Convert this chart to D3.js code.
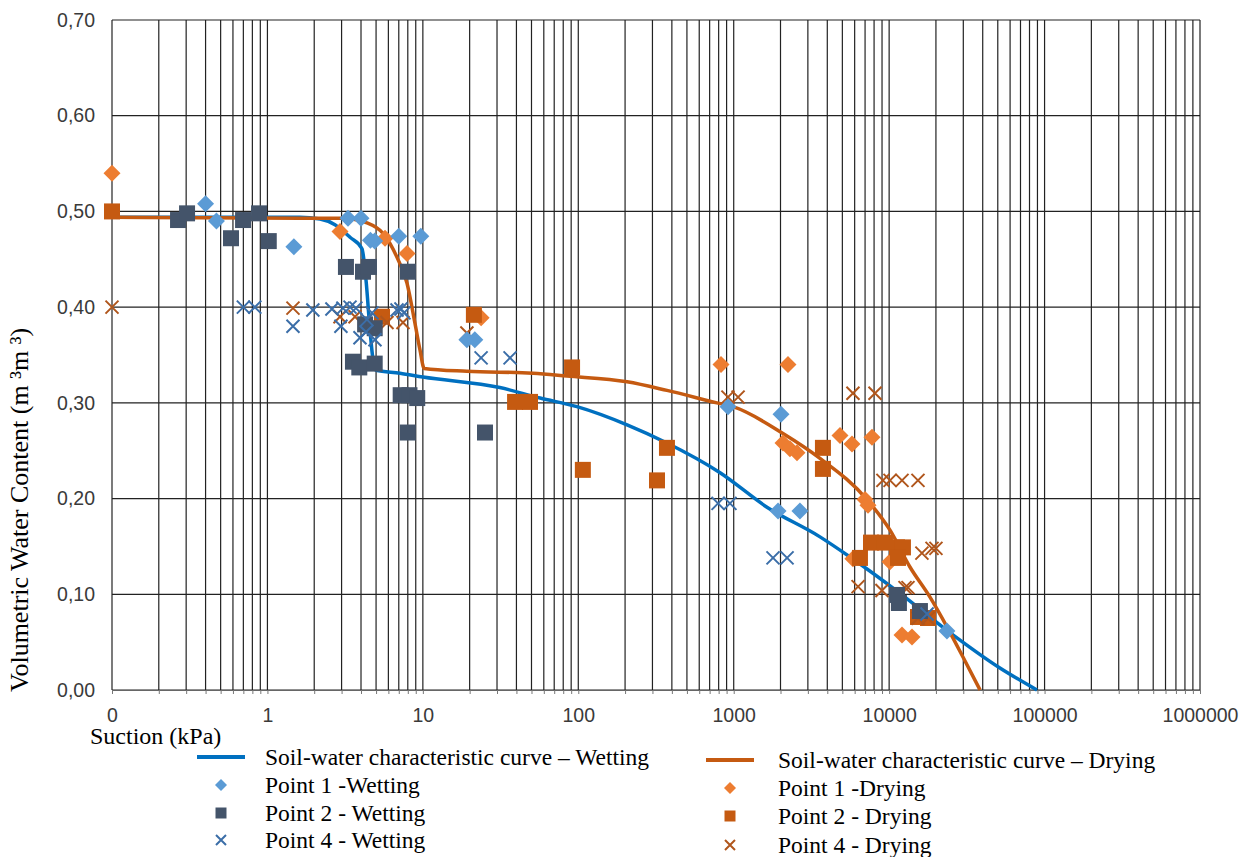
<!DOCTYPE html>
<html>
<head>
<meta charset="utf-8">
<script src="https://cdn.jsdelivr.net/npm/d3@7"></script>
<style>
  body { margin: 0; background: #fff; }
  .tick text { font-family: "Liberation Sans", Arial, sans-serif; font-size: 19.5px; fill: #3a3a3a; }
</style>
</head>
<body>
<script>
// suction (kPa), volumetric water content
const wettingCurve = [[0.1,0.494],[1.62,0.494],[2.18,0.492],[2.72,0.486],[3.4,0.473],[4.06,0.461],[4.31,0.428],[4.57,0.376],[4.78,0.345],[4.99,0.334],[7.13,0.331],[10,0.327],[31.3,0.316],[56.8,0.305],[98,0.296],[206,0.277],[372,0.258],[817,0.227],[1637,0.191],[3590,0.160],[5600,0.139],[11750,0.101],[24600,0.060],[51600,0.023],[89400,0]];
const dryingCurve = [[0.1,0.494],[1.62,0.493],[3.06,0.493],[4.37,0.488],[5.54,0.477],[6.82,0.452],[7.91,0.425],[8.9,0.383],[9.59,0.355],[10.2,0.336],[19.2,0.333],[51.1,0.331],[84.6,0.328],[206,0.322],[372,0.313],[780,0.300],[989,0.296],[2075,0.268],[3590,0.242],[7200,0.199],[10130,0.167],[13610,0.1285],[18320,0.097],[23550,0.066],[29850,0.0345],[38450,0]];

const point1Wetting = [[0.40,0.508],[0.47,0.490],[1.48,0.463],[3.3,0.493],[4.0,0.493],[4.6,0.470],[4.9,0.469],[7.0,0.474],[9.7,0.474],[19.2,0.366],[21.6,0.366],[919,0.296],[2014,0.288],[1929,0.187],[2667,0.187],[23550,0.0616]];
const point2Wetting = [[0.266,0.491],[0.304,0.498],[0.583,0.472],[0.697,0.491],[0.883,0.498],[1.02,0.469],[3.2,0.442],[4.12,0.437],[4.5,0.442],[8.02,0.437],[4.25,0.382],[4.9,0.378],[3.55,0.343],[3.9,0.337],[4.9,0.341],[7.2,0.308],[8.2,0.308],[9.2,0.305],[8.0,0.269],[25.1,0.269],[11230,0.0993],[11560,0.0909],[15780,0.0825]];
const point4Wetting = [[0.70,0.400],[0.83,0.400],[1.46,0.380],[1.96,0.397],[2.6,0.398],[3.06,0.399],[3.4,0.400],[3.71,0.399],[2.97,0.380],[3.94,0.368],[4.31,0.374],[4.37,0.387],[4.71,0.394],[4.92,0.366],[6.82,0.397],[7.23,0.398],[7.56,0.394],[23.7,0.347],[36.4,0.347],[793,0.195],[946,0.195],[1790,0.138],[2204,0.138],[17540,0.0794]];

const point1Drying = [[0.1,0.540],[2.93,0.479],[5.71,0.472],[7.91,0.456],[23.7,0.389],[828,0.340],[2234,0.340],[2075,0.258],[2301,0.252],[2553,0.248],[4830,0.266],[5770,0.257],[7760,0.264],[6995,0.199],[7310,0.193],[5850,0.137],[10130,0.134],[12100,0.0575],[14030,0.0554]];
const point2Drying = [[0.1,0.500],[5.46,0.390],[21.3,0.392],[39.2,0.301],[48.9,0.301],[91.2,0.337],[107,0.230],[321,0.219],[372,0.253],[3750,0.253],[3750,0.231],[6490,0.138],[7640,0.154],[9400,0.154],[11230,0.149],[12270,0.149],[11400,0.138],[15330,0.0763],[17780,0.0752]];
const point4Drying = [[0.1,0.400],[1.46,0.399],[2.93,0.390],[3.66,0.390],[5.88,0.384],[7.45,0.384],[19.2,0.373],[918,0.306],[1067,0.306],[5850,0.310],[8110,0.310],[9120,0.219],[10130,0.219],[12100,0.219],[15330,0.219],[16250,0.143],[18880,0.148],[20000,0.148],[6310,0.108],[8990,0.104],[12650,0.107],[13220,0.107],[15330,0.075],[17780,0.075]];

const xTicks = [0.1, 1, 10, 100, 1000, 10000, 100000, 1000000];
const xTickLabels = ["0", "1", "10", "100", "1000", "10000", "100000", "1000000"];
const yTicks = [0, 0.1, 0.2, 0.3, 0.4, 0.5, 0.6, 0.7];

const serif = "'Liberation Serif', 'Times New Roman', 'DejaVu Serif', serif";
const m = {top: 20, left: 112, right: 52, bottom: 167};
const W = 1252, H = 857;
const w = W - m.left - m.right, h = H - m.top - m.bottom;

const svg = d3.select("body").append("svg")
    .attr("width", W).attr("height", H);
const g = svg.append("g").attr("transform", `translate(${m.left},${m.top})`);

const x = d3.scaleLog().domain([0.1, 1e6]).range([0, w]);
const y = d3.scaleLinear().domain([0, 0.7]).range([h, 0]);

// grid
const minors = [];
for (let e = -1; e < 6; e++) for (let k = 1; k < 10; k++) minors.push(k * Math.pow(10, e));
minors.push(1e6);

g.append("g").selectAll("line").data(minors).enter().append("line")
    .attr("x1", d => x(d)).attr("x2", d => x(d))
    .attr("y1", 0).attr("y2", h)
    .attr("stroke", "#222").attr("stroke-width", 1.2);
g.append("g").selectAll("line").data(yTicks).enter().append("line")
    .attr("x1", 0).attr("x2", w)
    .attr("y1", d => y(d)).attr("y2", d => y(d))
    .attr("stroke", "#222").attr("stroke-width", 1.2);

// small ticks under the x axis
g.append("g").attr("transform", `translate(0,${h})`)
    .call(d3.axisBottom(x).tickValues(minors).tickSize(4).tickFormat(""))
    .call(a => a.select(".domain").attr("stroke", "#666"))
    .call(a => a.selectAll(".tick line").attr("stroke", "#777"));

// labels
const locale = d3.formatLocale({decimal: ",", thousands: ".", grouping: [3], currency: ["", ""]});
g.append("g").attr("transform", `translate(0,${h})`)
    .call(d3.axisBottom(x).tickValues(xTicks).tickSize(0).tickPadding(18)
        .tickFormat((d, i) => xTickLabels[i]))
    .call(a => a.select(".domain").remove());
g.append("g")
    .call(d3.axisLeft(y).tickValues(yTicks).tickSize(0).tickPadding(17)
        .tickFormat(locale.format(".2f")))
    .call(a => a.select(".domain").remove());

// markers
const diamond = s => `M0,${-s}L${s},0L0,${s}L${-s},0Z`;
const square = s => `M${-s},${-s}H${s}V${s}H${-s}Z`;
const cross = s => `M${-s},${-s}L${s},${s}M${-s},${s}L${s},${-s}`;

function drawPoints(data, kind, color) {
    const p = g.append("g").selectAll("path").data(data).enter().append("path")
        .attr("transform", d => `translate(${x(d[0])},${y(d[1])})`);
    if (kind === "diamond") p.attr("d", diamond(8.5)).attr("fill", color);
    else if (kind === "square") p.attr("d", square(8)).attr("fill", color);
    else p.attr("d", cross(6.5)).attr("fill", "none").attr("stroke", color).attr("stroke-width", 2);
}

const line = d3.line().x(d => x(d[0])).y(d => y(d[1])).curve(d3.curveMonotoneX);

g.append("path").datum(wettingCurve).attr("d", line)
    .attr("fill", "none").attr("stroke", "#0070C0").attr("stroke-width", 3.5);
g.append("path").datum(dryingCurve).attr("d", line)
    .attr("fill", "none").attr("stroke", "#C55A11").attr("stroke-width", 3.5);
drawPoints(point1Drying, "diamond", "#ED7D31");
drawPoints(point2Drying, "square", "#C55A11");
drawPoints(point4Drying, "cross", "#B0561C");
drawPoints(point1Wetting, "diamond", "#5B9BD5");
drawPoints(point2Wetting, "square", "#44546A");
drawPoints(point4Wetting, "cross", "#3B6EA8");

// titles
svg.append("text").attr("font-family", serif)
    .attr("x", 90).attr("y", 744).attr("font-size", 24)
    .text("Suction (kPa)");
svg.append("text").attr("font-family", serif)
    .attr("transform", "translate(28,692) rotate(-90)")
    .attr("font-size", 26)
    .text("Volumetric Water Content (m ³m ³)");

// legend
const legendRows = [
    {x: 197, y: 757, kind: "line", color: "#0070C0", text: "Soil-water characteristic curve \u2013 Wetting"},
    {x: 197, y: 785, kind: "diamond", color: "#5B9BD5", text: "Point 1 -Wetting"},
    {x: 197, y: 813, kind: "square", color: "#44546A", text: "Point 2 - Wetting"},
    {x: 197, y: 840, kind: "cross", color: "#3B6EA8", text: "Point 4 - Wetting"},
    {x: 706, y: 760, kind: "line", color: "#C55A11", text: "Soil-water characteristic curve \u2013 Drying"},
    {x: 706, y: 788, kind: "diamond", color: "#ED7D31", text: "Point 1 -Drying"},
    {x: 706, y: 816, kind: "square", color: "#C55A11", text: "Point 2 - Drying"},
    {x: 706, y: 845, kind: "cross", color: "#B0561C", text: "Point 4 - Drying"}
];
const lg = svg.append("g").selectAll("g").data(legendRows).enter().append("g")
    .attr("transform", d => `translate(${d.x},${d.y})`);
lg.each(function(d) {
    const s = d3.select(this);
    if (d.kind === "line") s.append("line").attr("x1", 0).attr("x2", 48)
        .attr("stroke", d.color).attr("stroke-width", 4);
    else if (d.kind === "diamond") s.append("path").attr("d", diamond(6)).attr("fill", d.color).attr("transform", "translate(24,0)");
    else if (d.kind === "square") s.append("path").attr("d", square(5.5)).attr("fill", d.color).attr("transform", "translate(24,0)");
    else s.append("path").attr("d", cross(5)).attr("fill", "none").attr("stroke", d.color).attr("stroke-width", 2).attr("transform", "translate(24,0)");
    s.append("text").attr("font-family", serif).attr("x", d.x < 500 ? 68 : 72).attr("y", 8)
        .attr("font-size", 23.5).text(d.text);
});
</script>
</body>
</html>
